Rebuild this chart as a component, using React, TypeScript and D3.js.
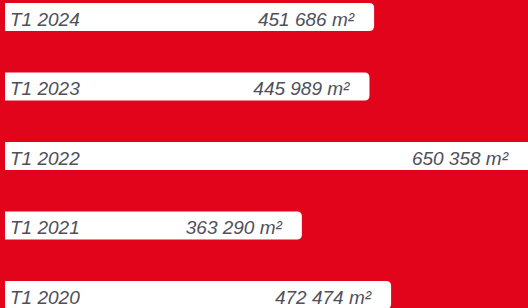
import * as d3 from 'd3';
import React, {useRef, useEffect} from 'react';

const periods = ["T1 2024", "T1 2023", "T1 2022", "T1 2021", "T1 2020"];
const surfaces = [451686, 445989, 650358, 363290, 472474];
const valueLabels = ["451 686 m²", "445 989 m²", "650 358 m²", "363 290 m²", "472 474 m²"];

const width = 528;
const height = 308;

const App = () => {
  const ref = useRef<SVGSVGElement>(null);

  useEffect(() => {
    document.body.style.margin = "0";
    const svg = d3.select(ref.current);
    svg.selectAll("*").remove();

    svg.append("rect")
    .attr("width", width)
    .attr("height", height)
    .attr("fill", "#e2041b");

    const x = d3.scaleLinear().domain([0, 640000]).range([5, width]);
    const y = d3.scaleBand().domain(periods).range([3, 309]).paddingInner(0.597);
    const r = 5;

    const rows = periods.map((p, i) => ({period: p, value: surfaces[i], label: valueLabels[i]}));

    // bars: square on the left, rounded on the right
    svg.selectAll("path.bar")
    .data(rows)
    .enter()
    .append("path")
    .attr("class", "bar")
    .attr("d", function (d) {
      const x0 = x(0), x1 = x(d.value);
      const y0 = y(d.period)!, y1 = y0 + y.bandwidth();
      return `M${x0},${y0}H${x1 - r}Q${x1},${y0} ${x1},${y0 + r}V${y1 - r}Q${x1},${y1} ${x1 - r},${y1}H${x0}Z`;
    })
    .attr("fill", "#ffffff");

    const textY = (d: any) => y(d.period)! + y.bandwidth() * 0.81;

    svg.selectAll("text.period")
    .data(rows)
    .enter()
    .append("text")
    .attr("class", "period")
    .attr("x", 10)
    .attr("y", textY)
    .text(d => d.period);

    svg.selectAll("text.value")
    .data(rows)
    .enter()
    .append("text")
    .attr("class", "value")
    .attr("x", d => Math.min(x(d.value), width) - 20)
    .attr("y", textY)
    .attr("text-anchor", "end")
    .text(d => d.label);

    svg.selectAll("text")
    .attr("font-family", "'Liberation Sans', Arial, sans-serif")
    .attr("font-style", "italic")
    .attr("font-size", "19px")
    .attr("fill", "#50505a");
  }, []);

  return (
    <svg ref={ref} width={width} height={height} style={{display: "block"}}>
    </svg>
  );
};

export default App;
